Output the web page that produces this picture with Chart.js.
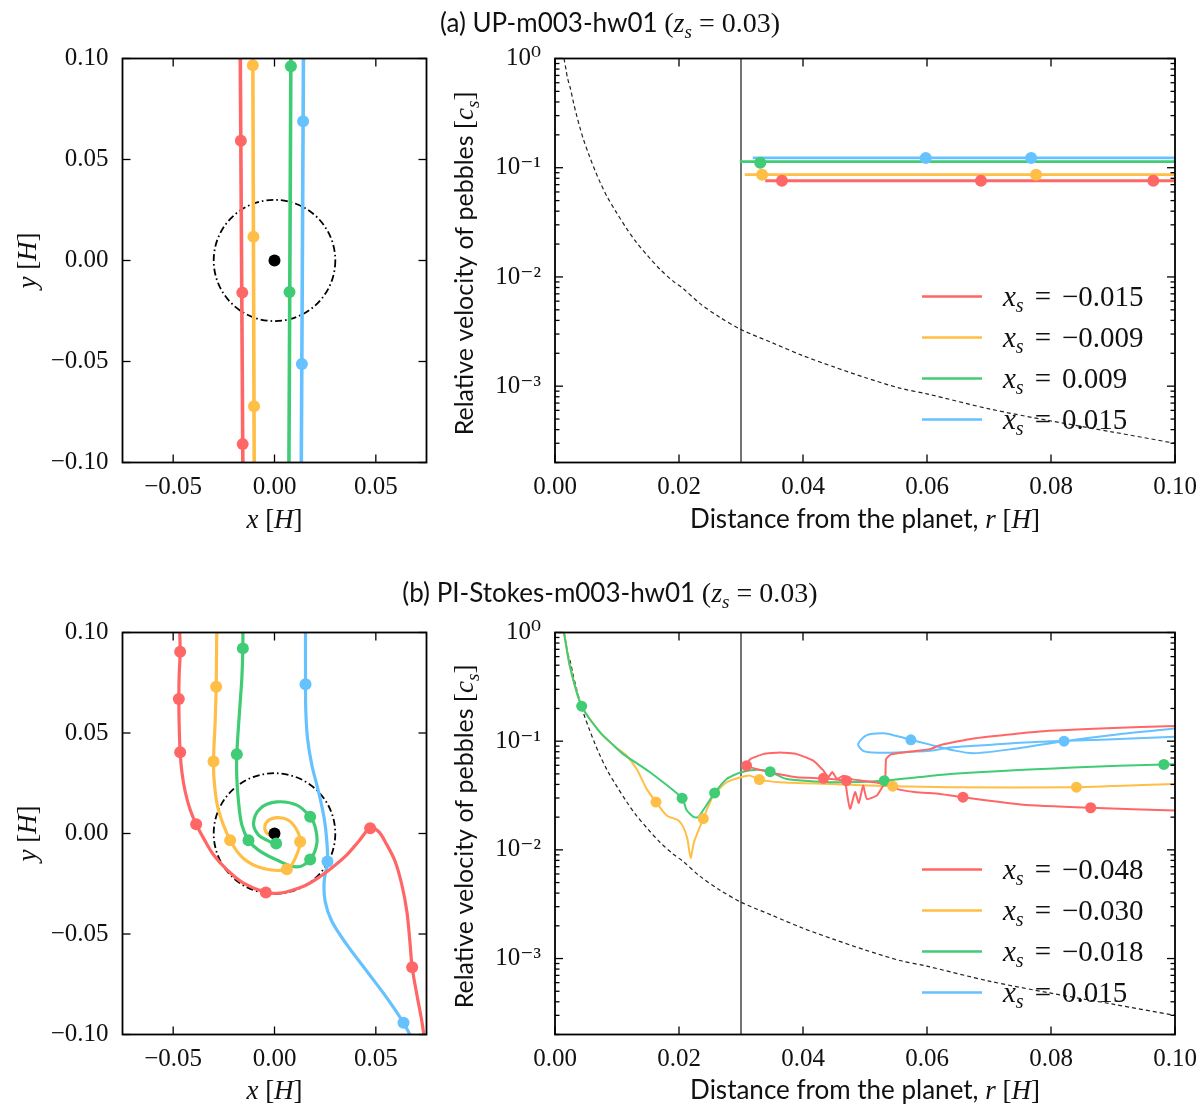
<!DOCTYPE html>
<html><head><meta charset="utf-8">
<script src="https://cdn.jsdelivr.net/npm/chart.js@4.4.1/dist/chart.umd.min.js"></script>
<style>
html,body{margin:0;padding:0;background:#fff;overflow:hidden}
#wrap{position:relative;width:1200px;height:1116px;overflow:hidden}
.cv{position:absolute}
.ttl{position:absolute;left:0;width:1220px;text-align:center;font-family:Lato,'Liberation Sans',sans-serif;font-size:26px;line-height:30px;color:#111;white-space:nowrap}
.ttl .m{font-family:'Liberation Serif','DejaVu Serif',serif;font-size:28px}
.ttl sub{font-size:0.68em;vertical-align:-0.3em;line-height:0}
</style></head>
<body>
<div id="wrap">
  <div class="cv" style="left:0;top:20px;width:440px;height:530px"><canvas id="cA1"></canvas></div>
  <div class="cv" style="left:440px;top:20px;width:770px;height:530px"><canvas id="cA2"></canvas></div>
  <div class="cv" style="left:0;top:594px;width:440px;height:522px"><canvas id="cB1"></canvas></div>
  <div class="cv" style="left:440px;top:594px;width:770px;height:522px"><canvas id="cB2"></canvas></div>
  <div class="ttl" style="top:7px">(a) UP-m003-hw01 <span class="m">(<i>z</i><sub><i>s</i></sub> = 0.03)</span></div>
  <div class="ttl" style="top:577px">(b) PI-Stokes-m003-hw01 <span class="m">(<i>z</i><sub><i>s</i></sub> = 0.03)</span></div>
</div>
<script>
// ---------------- ticks ----------------
const leftXTicks = [-0.05, 0, 0.05];
const leftXTickLabels = ['−0.05', '0.00', '0.05'];
const leftYTicks = [-0.1, -0.05, 0, 0.05, 0.1];
const leftYTickLabels = ['−0.10', '−0.05', '0.00', '0.05', '0.10'];
const rightXTicks = [0, 0.02, 0.04, 0.06, 0.08, 0.1];
const rightXTickLabels = ['0.00', '0.02', '0.04', '0.06', '0.08', '0.10'];
const logTicks = [1e-3, 1e-2, 1e-1, 1];
const logTickLabels = ['10⁻³', '10⁻²', '10⁻¹', '10⁰'];
const logMinorTicks = [];
for (const e of [-4, -3, -2, -1]) for (let m = 2; m <= 9; m++) { const v = m * Math.pow(10, e); if (v >= 2e-4) logMinorTicks.push(v); }

// ---------------- legends ----------------
const legendLabelsA = ['−0.015', '−0.009', '0.009', '0.015'];
const legendLabelsB = ['−0.048', '−0.030', '−0.018', '0.015'];

// ---------------- Hill sphere / planet ----------------
const circleCenter = [0, 0];
const circleRadius = 0.03;
const planetX = [0], planetY = [0];
const rLine = 0.03;   // vertical reference line in right panels

// ---------------- reference dashed curve (both rows) ----------------
const dashR = [0.00145, 0.0018, 0.002, 0.00253, 0.003, 0.0035, 0.004, 0.00457, 0.0055, 0.0065, 0.0073, 0.0085, 0.0099, 0.0115, 0.0131, 0.015, 0.0169, 0.019, 0.0207, 0.0234, 0.0265, 0.03, 0.035, 0.04, 0.045, 0.05, 0.0556, 0.06, 0.07, 0.08, 0.09, 0.1];
const dashV = [1.0, 0.78, 0.67, 0.52, 0.39, 0.3, 0.235, 0.183, 0.13, 0.093, 0.073, 0.053, 0.039, 0.028, 0.0208, 0.0155, 0.0118, 0.0092, 0.0078, 0.0057, 0.0043, 0.0033, 0.0025, 0.0019, 0.0015, 0.0012, 0.00096, 0.00085, 0.00062, 0.00048, 0.00038, 0.0003];

// ---------------- panel (a) left: trajectories x,y ----------------
const aTrajY = [0.104, 0.0, -0.104];
const aRedX = [-0.0169, -0.01625, -0.0156];
const aOrangeX = [-0.0107, -0.01035, -0.0100];
const aGreenX = [0.0081, 0.0076, 0.0071];
const aBlueX = [0.0143, 0.01375, 0.0132];
const aMarkRedX = [-0.0166, -0.0159, -0.0157], aMarkRedY = [0.0593, -0.0159, -0.0909];
const aMarkOrangeX = [-0.0107, -0.0104, -0.0101], aMarkOrangeY = [0.0967, 0.0118, -0.0722];
const aMarkGreenX = [0.0081, 0.0074], aMarkGreenY = [0.0962, -0.0156];
const aMarkBlueX = [0.0141, 0.0135], aMarkBlueY = [0.0689, -0.0512];

// ---------------- panel (a) right: velocities r,v ----------------
const aVRedR = [0.0339, 0.1], aVRedV = [0.076, 0.076];
const aVOrangeR = [0.0306, 0.1], aVOrangeV = [0.0863, 0.0863];
const aVGreenR = [0.0298, 0.1], aVGreenV = [0.1135, 0.1135];
const aVBlueR = [0.0319, 0.1], aVBlueV = [0.123, 0.123];
const aVMarkRedR = [0.0366, 0.0687, 0.0965], aVMarkRedV = [0.076, 0.076, 0.076];
const aVMarkOrangeR = [0.0334, 0.0776], aVMarkOrangeV = [0.0863, 0.0863];
const aVMarkGreenR = [0.0331], aVMarkGreenV = [0.111];
const aVMarkBlueR = [0.0598, 0.0768], aVMarkBlueV = [0.123, 0.123];

// ---------------- panel (b) left: trajectories x,y ----------------
const bRedX = [-0.0469, -0.04655, -0.04704, -0.0472, -0.04704, -0.04655, -0.04572, -0.04408, -0.04161, -0.03865, -0.03503, -0.0301, -0.02352, -0.0153, -0.00428, 0.0028, 0.00938, 0.01595, 0.02253, 0.02911, 0.03569, 0.04145, 0.0472, 0.05132, 0.05543, 0.05954, 0.06283, 0.0653, 0.06694, 0.06793, 0.07023, 0.0727, 0.0742];
const bRedY = [0.104, 0.0904, 0.0788, 0.0669, 0.054, 0.0404, 0.0308, 0.0209, 0.0118, 0.0046, -0.0023, -0.0106, -0.018, -0.0247, -0.0293, -0.0296, -0.028, -0.0255, -0.0214, -0.0164, -0.0106, -0.004, 0.0026, 0.001, -0.0056, -0.0139, -0.0255, -0.0387, -0.0553, -0.0666, -0.0801, -0.0934, -0.104];
const bOrangeX = [-0.02845, -0.02862, -0.02878, -0.02928, -0.0301, -0.0296, -0.02763, -0.02188, -0.0153, -0.00543, 0.00609, 0.0102, 0.01266, 0.01102, 0.00691, 0.00115, -0.00378, -0.00461, -0.00214, 0];
const bOrangeY = [0.104, 0.0871, 0.073, 0.0556, 0.0358, 0.0242, 0.0116, -0.0033, -0.0124, -0.0174, -0.0178, -0.0124, -0.0041, 0.0017, 0.0066, 0.0079, 0.0058, 0.0017, -0.0008, 0];
const bGreenX = [-0.01562, -0.01562, -0.01612, -0.01727, -0.01859, -0.01859, -0.01776, -0.01612, -0.01283, -0.00789, 0.00115, 0.01102, 0.0176, 0.02089, 0.02007, 0.0176, 0.01102, 0.00115, -0.00707, -0.01036, -0.00789, -0.00378, 0.00082, 0.0003];
const bGreenY = [0.104, 0.0921, 0.0772, 0.0606, 0.0394, 0.0275, 0.0159, 0.0043, -0.0033, -0.0083, -0.0132, -0.0166, -0.0129, -0.005, 0.0033, 0.0083, 0.0141, 0.0157, 0.0124, 0.005, -0.0008, -0.0033, -0.005, -0.0015];
const bBlueX = [0.0153, 0.0153, 0.01546, 0.01628, 0.01842, 0.02171, 0.02451, 0.02582, 0.02615, 0.02451, 0.025, 0.02829, 0.03569, 0.04556, 0.05543, 0.06365, 0.0688];
const bBlueY = [0.104, 0.0742, 0.0606, 0.0474, 0.0341, 0.0209, 0.0076, -0.004, -0.0139, -0.0238, -0.0338, -0.0437, -0.0553, -0.0685, -0.0818, -0.0942, -0.104];
const bMarkRedX = [-0.04655, -0.0472, -0.04655, -0.03865, -0.00428, 0.0472, 0.06793], bMarkRedY = [0.0904, 0.0669, 0.0404, 0.0046, -0.0293, 0.0026, -0.0666];
const bMarkOrangeX = [-0.02878, -0.0301, -0.02188, 0.00609, 0.01266], bMarkOrangeY = [0.073, 0.0358, -0.0033, -0.0178, -0.0041];
const bMarkGreenX = [-0.01562, -0.01859, -0.01283, 0.0176, 0.0176, 0.00082], bMarkGreenY = [0.0921, 0.0394, -0.0033, -0.0129, 0.0083, -0.005];
const bMarkBlueX = [0.0153, 0.02615, 0.06365], bMarkBlueY = [0.0742, -0.0139, -0.0942];

// ---------------- panel (b) right: velocities r,v ----------------
const bVRedR = [0.1, 0.0864, 0.0755, 0.0658, 0.0621, 0.058, 0.0551, 0.0532, 0.0519, 0.0503, 0.0497, 0.049, 0.0484, 0.0476, 0.0468, 0.047, 0.0433, 0.039, 0.0347, 0.0309, 0.0315, 0.0336, 0.0363, 0.039, 0.0417, 0.0433, 0.0441, 0.0447, 0.0455, 0.0465, 0.048, 0.05, 0.052, 0.0532, 0.0534, 0.0543, 0.0605, 0.0621, 0.0675, 0.0782, 0.089, 0.1];
const bVRedV = [0.023, 0.0244, 0.026, 0.0305, 0.0327, 0.034, 0.0364, 0.0404, 0.0316, 0.0294, 0.039, 0.027, 0.034, 0.0239, 0.044, 0.0433, 0.0455, 0.0466, 0.0517, 0.0594, 0.0684, 0.076, 0.0788, 0.076, 0.066, 0.0535, 0.0466, 0.052, 0.045, 0.048, 0.0445, 0.043, 0.0415, 0.041, 0.0684, 0.076, 0.0845, 0.092, 0.106, 0.123, 0.1315, 0.138];
const bVOrangeR = [0.00145, 0.0024, 0.0043, 0.0073, 0.0095, 0.01156, 0.01317, 0.01478, 0.01629, 0.01801, 0.01989, 0.0207, 0.02134, 0.02188, 0.02242, 0.02392, 0.02554, 0.02769, 0.03, 0.03145, 0.03296, 0.03629, 0.04435, 0.05446, 0.06371, 0.0841, 0.1];
const bVOrangeV = [1.0, 0.49, 0.21, 0.12, 0.091, 0.0734, 0.0554, 0.0364, 0.0275, 0.0207, 0.0187, 0.0162, 0.0127, 0.00845, 0.0118, 0.0194, 0.0316, 0.0419, 0.0466, 0.0482, 0.0443, 0.0419, 0.0404, 0.0385, 0.0377, 0.0377, 0.0404];
const bVGreenR = [0.00145, 0.0024, 0.0043, 0.0073, 0.0095, 0.011, 0.01532, 0.0205, 0.02124, 0.02242, 0.02312, 0.02575, 0.02769, 0.03, 0.03253, 0.0347, 0.03737, 0.04435, 0.05311, 0.06371, 0.0836, 0.0982, 0.1];
const bVGreenV = [1.0, 0.49, 0.21, 0.12, 0.091, 0.076, 0.0517, 0.0299, 0.0231, 0.02, 0.02, 0.0334, 0.0449, 0.0517, 0.0547, 0.0524, 0.0449, 0.0419, 0.0433, 0.0499, 0.0574, 0.0611, 0.0613];
const bVBlueR = [0.1, 0.091, 0.0821, 0.0745, 0.0675, 0.064, 0.0605, 0.0574, 0.055, 0.053, 0.0503, 0.0489, 0.0497, 0.0513, 0.0551, 0.0605, 0.0637, 0.0675, 0.0782, 0.09, 0.1];
const bVBlueV = [0.1306, 0.116, 0.100, 0.0857, 0.0776, 0.083, 0.093, 0.103, 0.112, 0.118, 0.1135, 0.094, 0.0815, 0.0788, 0.0788, 0.0815, 0.0875, 0.0906, 0.0986, 0.104, 0.110];
const bVMarkRedR = [0.0864, 0.0658, 0.047, 0.0433, 0.0309], bVMarkRedV = [0.0244, 0.0305, 0.0433, 0.0455, 0.0594];
const bVMarkOrangeR = [0.01629, 0.02392, 0.03296, 0.05446, 0.0841], bVMarkOrangeV = [0.0275, 0.0194, 0.0443, 0.0385, 0.0377];
const bVMarkGreenR = [0.0043, 0.0205, 0.02575, 0.0347, 0.05311, 0.0982], bVMarkGreenV = [0.21, 0.0299, 0.0334, 0.0524, 0.0433, 0.0611];
const bVMarkBlueR = [0.0821, 0.0574], bVMarkBlueV = [0.100, 0.103];

// ---------------- style ----------------
const RED = '#ff6666', ORANGE = '#ffbe46', GREEN = '#40cc74', BLUE = '#66c1ff';
const COLORS = [RED, ORANGE, GREEN, BLUE];
const SERIF = "'Liberation Serif','DejaVu Serif',serif";
const SANS = "Lato,'Liberation Sans',sans-serif";
const fi = s => `italic ${s}px ${SERIF}`;
const fn = s => `${s}px ${SERIF}`;
const fs = s => `${s}px ${SANS}`;

const P = (xs, ys) => xs.map((x, i) => ({x: x, y: ys[i]}));
function lineDS(xs, ys, color, w, tension, order, dash) {
  return {data: P(xs, ys), showLine: true, borderColor: color, backgroundColor: color, borderWidth: w,
    pointRadius: 0, pointHoverRadius: 0, tension: tension, fill: false, clip: 0, order: order,
    borderDash: dash || [], borderCapStyle: 'butt', borderJoinStyle: 'round'};
}
function markDS(xs, ys, color, r, order) {
  return {data: P(xs, ys), showLine: false, pointRadius: r, pointHoverRadius: r, pointBackgroundColor: color,
    pointBorderColor: color, pointBorderWidth: 0, order: order};
}

function drawRich(ctx, segs, x, y, align) {
  ctx.save(); ctx.fillStyle = '#111'; ctx.textBaseline = 'alphabetic'; ctx.textAlign = 'left';
  let w = 0;
  segs.forEach(s => { ctx.font = s.f; w += ctx.measureText(s.t).width + (s.gap || 0); });
  let cx = align === 'center' ? x - w / 2 : x;
  segs.forEach(s => { ctx.font = s.f; ctx.fillText(s.t, cx, y + (s.dy || 0)); cx += ctx.measureText(s.t).width + (s.gap || 0); });
  ctx.restore();
}

function decoPlugin(o) {
  return {
    id: 'deco',
    beforeDatasetsDraw(chart) {
      if (!o.circle) return;
      const ctx = chart.ctx, xs = chart.scales.x, ys = chart.scales.y;
      const cx = xs.getPixelForValue(circleCenter[0]), cy = ys.getPixelForValue(circleCenter[1]);
      const rx = Math.abs(xs.getPixelForValue(circleCenter[0] + circleRadius) - cx);
      const ry = Math.abs(cy - ys.getPixelForValue(circleCenter[1] + circleRadius));
      ctx.save(); ctx.beginPath(); ctx.ellipse(cx, cy, rx, ry, 0, 0, Math.PI * 2);
      ctx.setLineDash([7, 3, 1.6, 3]); ctx.lineWidth = 1.8; ctx.strokeStyle = '#000'; ctx.stroke(); ctx.restore();
    },
    afterDraw(chart) {
      const ctx = chart.ctx, a = chart.chartArea, xs = chart.scales.x, ys = chart.scales.y;
      ctx.save(); ctx.strokeStyle = '#000'; ctx.setLineDash([]);
      const L = (x1, y1, x2, y2) => { ctx.beginPath(); ctx.moveTo(x1, y1); ctx.lineTo(x2, y2); ctx.stroke(); };
      ctx.lineWidth = 1.3;
      o.xMajor.forEach(v => { const p = xs.getPixelForValue(v); L(p, a.bottom, p, a.bottom - 8); L(p, a.top, p, a.top + 8); });
      o.yMajor.forEach(v => { const p = ys.getPixelForValue(v); L(a.left, p, a.left + 8, p); L(a.right, p, a.right - 8, p); });
      (o.yMinor || []).forEach(v => { const p = ys.getPixelForValue(v); L(a.left, p, a.left + 4.5, p); L(a.right, p, a.right - 4.5, p); });
      ctx.lineWidth = 1.8;
      ctx.strokeRect(a.left, a.top, a.right - a.left, a.bottom - a.top);
      drawRich(ctx, o.xTitle, (a.left + a.right) / 2, a.bottom + o.xTitleDy, 'center');
      ctx.save(); ctx.translate(o.yTitleX, (a.top + a.bottom) / 2 + (o.yTitleDy || 0)); ctx.rotate(-Math.PI / 2);
      drawRich(ctx, o.yTitle, 0, 0, 'center'); ctx.restore();
      if (o.legend) {
        o.legend.labels.forEach((lab, i) => {
          const y = a.top + o.legend.top + i * 41;
          ctx.strokeStyle = COLORS[i]; ctx.lineWidth = 2.5;
          L(a.left + 367, y, a.left + 427, y);
          drawRich(ctx, [{t: 'x', f: fi(29)}, {t: 's', f: fi(20), dy: 6, gap: 11}, {t: '=', f: fn(29), gap: 11}, {t: lab, f: fn(29)}], a.left + 448, y + 9, 'left');
        });
      }
      ctx.restore();
    }
  };
}

function makeChart(id, c) {
  const tickFont = {family: SERIF, size: 25};
  return new Chart(document.getElementById(id), {
    type: 'scatter',
    data: {datasets: c.datasets},
    options: {
      responsive: true, maintainAspectRatio: false, animation: false, events: [],
      layout: {padding: c.padding},
      plugins: {legend: {display: false}, tooltip: {enabled: false}, title: {display: false}},
      scales: {
        x: {type: 'linear', min: c.xMin, max: c.xMax, bounds: 'data',
          grid: {display: false, drawTicks: false}, border: {display: false},
          ticks: {font: tickFont, color: '#111', padding: 10, maxRotation: 0, autoSkip: false,
            callback: (v, i) => c.xLabels[i]},
          afterBuildTicks: s => { s.ticks = c.xTicks.map(v => ({value: v})); },
          afterFit: s => { s.height = c.xAxisH; }},
        y: {type: c.yType, min: c.yMin, max: c.yMax, bounds: 'data',
          grid: {display: false, drawTicks: false}, border: {display: false},
          ticks: {font: tickFont, color: '#111', padding: 14, autoSkip: false,
            callback: (v, i) => c.yLabels[i]},
          afterBuildTicks: s => { s.ticks = c.yTicks.map(v => ({value: v, major: true})); },
          afterFit: s => { s.width = c.yAxisW; }}
      }
    },
    plugins: [decoPlugin(c.deco)]
  });
}

const xTitleLeft = [{t: 'x', f: fi(27)}, {t: ' [', f: fn(27)}, {t: 'H', f: fi(27)}, {t: ']', f: fn(27)}];
const yTitleLeft = [{t: 'y', f: fi(27)}, {t: ' [', f: fn(27)}, {t: 'H', f: fi(27)}, {t: ']', f: fn(27)}];
const xTitleRight = [{t: 'Distance from the planet, ', f: fs(26)}, {t: 'r', f: fi(27)}, {t: ' [', f: fn(27)}, {t: 'H', f: fi(27)}, {t: ']', f: fn(27)}];
const yTitleRight = [{t: 'Relative velocity of pebbles ', f: fs(25)}, {t: '[', f: fn(27)}, {t: 'c', f: fi(27)}, {t: 's', f: fi(19), dy: 6}, {t: ']', f: fn(27)}];

// ---- (a) left ----
makeChart('cA1', {
  xMin: -0.075, xMax: 0.075, yMin: -0.1, yMax: 0.1, yType: 'linear',
  xTicks: leftXTicks, xLabels: leftXTickLabels, yTicks: leftYTicks, yLabels: leftYTickLabels,
  padding: {left: 0, top: 38.5, right: 13.5, bottom: 0}, yAxisW: 122.5, xAxisH: 87.5,
  datasets: [
    markDS(planetX, planetY, '#000', 6, 0),
    markDS(aMarkRedX, aMarkRedY, RED, 6, 1), markDS(aMarkOrangeX, aMarkOrangeY, ORANGE, 6, 1),
    markDS(aMarkGreenX, aMarkGreenY, GREEN, 6, 1), markDS(aMarkBlueX, aMarkBlueY, BLUE, 6, 1),
    lineDS(aRedX, aTrajY, RED, 3.6, 0, 5), lineDS(aOrangeX, aTrajY, ORANGE, 3.6, 0, 5),
    lineDS(aGreenX, aTrajY, GREEN, 3.6, 0, 5), lineDS(aBlueX, aTrajY, BLUE, 3.6, 0, 5)
  ],
  deco: {circle: true, xMajor: leftXTicks, yMajor: leftYTicks, xTitle: xTitleLeft, xTitleDy: 65, yTitle: yTitleLeft, yTitleX: 36}
});

// ---- (a) right ----
makeChart('cA2', {
  xMin: 0, xMax: 0.1, yMin: 2e-4, yMax: 1, yType: 'logarithmic',
  xTicks: rightXTicks, xLabels: rightXTickLabels, yTicks: logTicks, yLabels: logTickLabels,
  padding: {left: 0, top: 38.5, right: 35, bottom: 0}, yAxisW: 115, xAxisH: 87.5,
  datasets: [
    markDS(aVMarkRedR, aVMarkRedV, RED, 6, 1), markDS(aVMarkOrangeR, aVMarkOrangeV, ORANGE, 6, 1),
    markDS(aVMarkGreenR, aVMarkGreenV, GREEN, 6, 1), markDS(aVMarkBlueR, aVMarkBlueV, BLUE, 6, 1),
    lineDS(aVRedR, aVRedV, RED, 2.8, 0, 4), lineDS(aVOrangeR, aVOrangeV, ORANGE, 2.8, 0, 4),
    lineDS(aVGreenR, aVGreenV, GREEN, 2.8, 0, 4), lineDS(aVBlueR, aVBlueV, BLUE, 2.8, 0, 4),
    lineDS([rLine, rLine], [2e-4, 1], '#000', 1.1, 0, 6),
    lineDS(dashR, dashV, '#222', 1.2, 0.3, 7, [4, 3])
  ],
  deco: {xMajor: rightXTicks, yMajor: logTicks, yMinor: logMinorTicks, xTitle: xTitleRight, xTitleDy: 65, yTitle: yTitleRight, yTitleX: 33, yTitleDy: 3,
    legend: {labels: legendLabelsA, top: 238}}
});

// ---- (b) left ----
makeChart('cB1', {
  xMin: -0.075, xMax: 0.075, yMin: -0.1, yMax: 0.1, yType: 'linear',
  xTicks: leftXTicks, xLabels: leftXTickLabels, yTicks: leftYTicks, yLabels: leftYTickLabels,
  padding: {left: 0, top: 38.5, right: 13.5, bottom: 0}, yAxisW: 122.5, xAxisH: 81.5,
  datasets: [
    markDS(planetX, planetY, '#000', 6, 3),
    markDS(bMarkRedX, bMarkRedY, RED, 6, 1), markDS(bMarkOrangeX, bMarkOrangeY, ORANGE, 6, 1),
    markDS(bMarkGreenX, bMarkGreenY, GREEN, 6, 1), markDS(bMarkBlueX, bMarkBlueY, BLUE, 6, 1),
    lineDS(bRedX, bRedY, RED, 3.2, 0.35, 5), lineDS(bOrangeX, bOrangeY, ORANGE, 3.2, 0.35, 5),
    lineDS(bGreenX, bGreenY, GREEN, 3.2, 0.35, 5), lineDS(bBlueX, bBlueY, BLUE, 3.2, 0.35, 5)
  ],
  deco: {circle: true, xMajor: leftXTicks, yMajor: leftYTicks, xTitle: xTitleLeft, xTitleDy: 64, yTitle: yTitleLeft, yTitleX: 36}
});

// ---- (b) right ----
makeChart('cB2', {
  xMin: 0, xMax: 0.1, yMin: 2e-4, yMax: 1, yType: 'logarithmic',
  xTicks: rightXTicks, xLabels: rightXTickLabels, yTicks: logTicks, yLabels: logTickLabels,
  padding: {left: 0, top: 38.5, right: 35, bottom: 0}, yAxisW: 115, xAxisH: 81.5,
  datasets: [
    markDS(bVMarkRedR, bVMarkRedV, RED, 5.5, 1), markDS(bVMarkOrangeR, bVMarkOrangeV, ORANGE, 5.5, 1),
    markDS(bVMarkGreenR, bVMarkGreenV, GREEN, 5.5, 1), markDS(bVMarkBlueR, bVMarkBlueV, BLUE, 5.5, 1),
    lineDS(bVRedR, bVRedV, RED, 2, 0.15, 4), lineDS(bVOrangeR, bVOrangeV, ORANGE, 2, 0.2, 5),
    lineDS(bVGreenR, bVGreenV, GREEN, 2, 0.2, 4), lineDS(bVBlueR, bVBlueV, BLUE, 2, 0.3, 4),
    lineDS([rLine, rLine], [2e-4, 1], '#000', 1.1, 0, 6),
    lineDS(dashR, dashV, '#222', 1.2, 0.3, 7, [4, 3])
  ],
  deco: {xMajor: rightXTicks, yMajor: logTicks, yMinor: logMinorTicks, xTitle: xTitleRight, xTitleDy: 64, yTitle: yTitleRight, yTitleX: 33, yTitleDy: 3,
    legend: {labels: legendLabelsB, top: 237}}
});
</script>
</body></html>
